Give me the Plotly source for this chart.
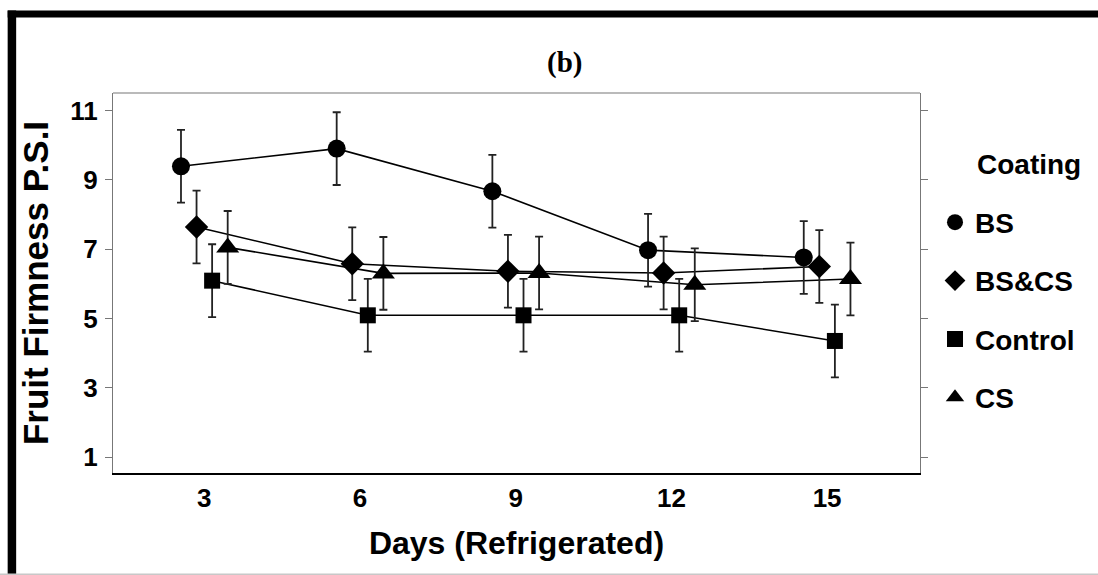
import plotly.graph_objects as go

# ---- data ----
days = [3, 6, 9, 12, 15]
series_names = ["BS", "BS&CS", "Control", "CS"]
bs = [9.39, 9.90, 8.67, 6.97, 6.76]
bs_cs = [7.64, 6.58, 6.36, 6.31, 6.50]
control = [6.09, 5.09, 5.09, 5.09, 4.35]
cs = [7.05, 6.30, 6.31, 5.97, 6.14]
err_bs = [1.05, 1.05, 1.05, 1.05, 1.05]
err_bs_cs = [1.05, 1.05, 1.05, 1.05, 1.05]
err_control = [1.05, 1.05, 1.05, 1.05, 1.05]
err_cs = [1.05, 1.05, 1.05, 1.05, 1.05]
y_ticks = [1, 3, 5, 7, 9, 11]

# ---- layout geometry (pixels) ----
W, H = 1098, 575
L, R, T, B = 113.3, 920.0, 92.5, 472.7

def px(x):
    return (x - L) / (R - L)

def py(y):
    return (B - y) / (B - T)

FONT = "Arial, 'Liberation Sans', sans-serif"
dodge = [-0.45, -0.15, 0.15, 0.45]
symbols = ["circle", "diamond", "square", "triangle-up"]
sizes = [18, 18, 16, 20]
values = [bs, bs_cs, control, cs]
errors = [err_bs, err_bs_cs, err_control, err_cs]

fig = go.Figure()
for i, name in enumerate(series_names):
    xs = [d + dodge[i] for d in days]
    fig.add_trace(go.Scatter(
        x=xs, y=values[i], mode="lines",
        line=dict(color="black", width=1.6),
        showlegend=False, hoverinfo="skip"))
for i, name in enumerate(series_names):
    xs = [d + dodge[i] for d in days]
    fig.add_trace(go.Scatter(
        x=xs, y=values[i], mode="markers", name=name,
        legendgroup=name,
        marker=dict(symbol=symbols[i], size=sizes[i], color="black",
                    line=dict(width=0)),
        error_y=dict(type="data", array=errors[i], visible=True,
                     color="#222222", thickness=1.8, width=4)))

shapes = [
    # thick frame: top and left
    dict(type="rect", xref="paper", yref="paper",
         x0=px(8), x1=px(1100), y0=py(17), y1=py(10),
         fillcolor="black", line=dict(width=0), layer="above"),
    dict(type="rect", xref="paper", yref="paper",
         x0=px(8), x1=px(16.5), y0=py(577), y1=py(10),
         fillcolor="black", line=dict(width=0), layer="above"),
    # thin gray bottom line
    dict(type="line", xref="paper", yref="paper",
         x0=px(0), x1=px(1100), y0=py(574), y1=py(574),
         line=dict(color="#c8c8c8", width=1.5)),
    # plot top border
    dict(type="line", xref="paper", yref="paper",
         x0=0, x1=1, y0=1, y1=1,
         line=dict(color="#777777", width=1.2)),
]

annotations = [
    dict(text="(b)", xref="paper", yref="paper", x=px(565), y=py(62),
         xanchor="center", yanchor="middle", showarrow=False,
         font=dict(family="'Liberation Serif', 'Times New Roman', serif",
                   size=29, color="black", weight="bold")),
    dict(text="Coating", xref="paper", yref="paper", x=px(975), y=py(164),
         xanchor="left", yanchor="middle", showarrow=False,
         font=dict(family=FONT, size=28, color="black", weight="bold")),
]

fig.update_layout(
    width=W, height=H,
    margin=dict(l=L, r=W - R, t=T, b=H - B, autoexpand=False),
    paper_bgcolor="white", plot_bgcolor="white",
    showlegend=True,
    legend=dict(x=px(935), y=py(197), xanchor="left", yanchor="top",
                font=dict(family=FONT, size=28, color="black", weight="bold"),
                tracegroupgap=19, traceorder="grouped",
                bgcolor="rgba(0,0,0,0)", borderwidth=0),
    shapes=shapes, annotations=annotations,
    xaxis=dict(range=[1.24, 16.79], tickmode="array", tickvals=days,
               ticktext=[str(d) for d in days],
               showgrid=False, zeroline=False, ticks="",
               showline=True, linecolor="black", linewidth=1.5, mirror=False,
               tickfont=dict(family=FONT, size=26, color="black", weight="bold"),
               ticklabelstandoff=1,
               title=dict(text="Days (Refrigerated)", standoff=20,
                          font=dict(family=FONT, size=32, color="black",
                                    weight="bold"))),
    yaxis=dict(range=[0.54, 11.505], tickmode="array", tickvals=y_ticks,
               ticktext=[str(v) for v in y_ticks],
               showgrid=False, zeroline=False,
               ticks="outside", ticklen=7, tickcolor="#777777", tickwidth=1.2,
               showline=True, linecolor="#777777", linewidth=1.2,
               mirror="ticks",
               tickfont=dict(family=FONT, size=26, color="black", weight="bold"),
               ticklabelstandoff=2,
               title=dict(text="Fruit Firmness P.S.I", standoff=10,
                          font=dict(family=FONT, size=35, color="black",
                                    weight="bold"))),
)

fig.write_html("out.html")
